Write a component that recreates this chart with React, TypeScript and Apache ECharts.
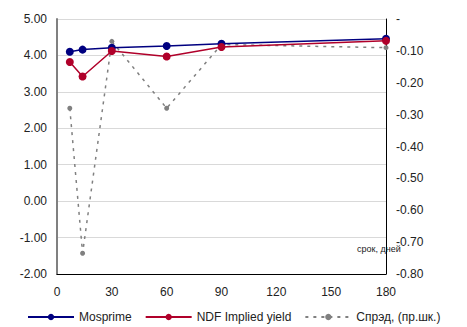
import React, { useEffect, useRef } from "react";
import * as echarts from "echarts";

const days = [7, 14, 30, 60, 90, 180];
const mosprime = [4.1, 4.16, 4.21, 4.26, 4.32, 4.46];
const ndf = [3.82, 3.42, 4.12, 3.97, 4.23, 4.4];
const spread = [-0.28, -0.735, -0.07, -0.28, -0.08, -0.09];
const xTicks = [0, 30, 60, 90, 120, 150, 180];

const FONT = "Liberation Sans, Arial, sans-serif";

export default function App() {
  const ref = useRef<HTMLDivElement>(null);
  useEffect(() => {
    if (!ref.current) return;
    const chart = echarts.init(ref.current, null, { renderer: "svg" });
    const pair = (v: number[]) => days.map((d, i) => [d, v[i]]);
    chart.setOption({
      animation: false,
      textStyle: { fontFamily: FONT },
      grid: { left: 57, right: 81, top: 19, bottom: 53, containLabel: false },
      xAxis: {
        type: "value",
        min: xTicks[0],
        max: xTicks[xTicks.length - 1],
        interval: 30,
        axisLine: { onZero: false, lineStyle: { color: "#000", width: 1 } },
        axisTick: { show: false },
        splitLine: { show: false },
        axisLabel: { color: "#222", fontSize: 12, margin: 12, fontFamily: FONT },
      },
      yAxis: [
        {
          type: "value",
          min: -2,
          max: 5,
          interval: 1,
          axisLine: { show: true, lineStyle: { color: "#808080", width: 2 } },
          axisTick: { show: false },
          splitLine: { show: true, lineStyle: { color: "#d9d9d9", width: 1 } },
          axisLabel: {
            color: "#222",
            fontSize: 12,
            margin: 10,
            fontFamily: FONT,
            formatter: (v: number) => v.toFixed(2),
          },
        },
        {
          type: "value",
          min: -0.8,
          max: 0,
          interval: 0.1,
          position: "right",
          axisLine: { show: true, lineStyle: { color: "#000", width: 1 } },
          axisTick: { show: false },
          splitLine: { show: false },
          axisLabel: {
            color: "#222",
            fontSize: 12,
            margin: 10,
            fontFamily: FONT,
            formatter: (v: number) => (Math.abs(v) < 1e-9 ? "-" : v.toFixed(2)),
          },
        },
      ],
      legend: {
        left: 22,
        top: 306,
        itemWidth: 46,
        itemHeight: 8,
        itemGap: 13,
        textStyle: { fontSize: 12, color: "#222", fontFamily: FONT },
        data: ["Mosprime", "NDF Implied yield", "Спрэд, (пр.шк.)"],
      },
      graphic: [
        {
          type: "text",
          left: 357,
          top: 244,
          style: { text: "срок, дней", fontSize: 9, fill: "#222", fontFamily: FONT },
        },
      ],
      series: [
        {
          name: "Спрэд, (пр.шк.)",
          type: "line",
          yAxisIndex: 1,
          data: pair(spread),
          symbol: "circle",
          symbolSize: 5,
          itemStyle: { color: "#808080" },
          lineStyle: { color: "#808080", width: 1.5, type: [3, 5] },
          z: 1,
        },
        {
          name: "Mosprime",
          type: "line",
          data: pair(mosprime),
          symbol: "circle",
          symbolSize: 8,
          itemStyle: { color: "#000080" },
          lineStyle: { color: "#000080", width: 1.5 },
          z: 3,
        },
        {
          name: "NDF Implied yield",
          type: "line",
          data: pair(ndf),
          symbol: "circle",
          symbolSize: 8,
          itemStyle: { color: "#b0002a" },
          lineStyle: { color: "#b0002a", width: 1.5 },
          z: 4,
        },
      ],
    });
    return () => chart.dispose();
  }, []);
  return <div ref={ref} style={{ width: 467, height: 327, position: "absolute", left: 0, top: 0 }} />;
}
